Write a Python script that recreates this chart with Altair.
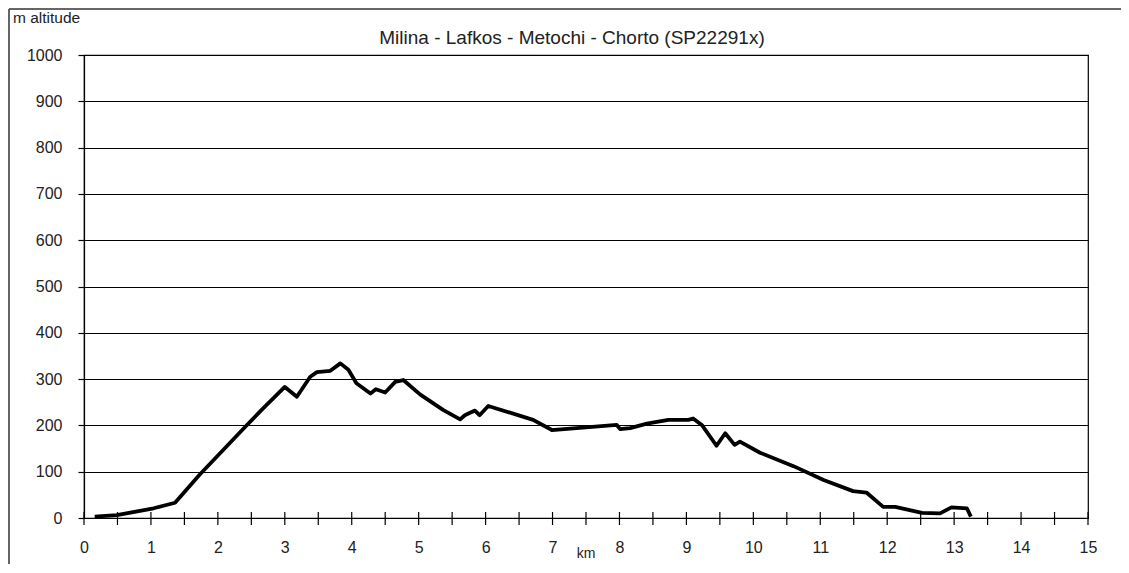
import altair as alt
import pandas as pd

# ---- data ----
km = [0.16, 0.49, 1.04, 1.36, 1.73, 2.41, 2.65, 3.00, 3.18, 3.38, 3.48, 3.68, 3.83,
      3.95, 4.07, 4.28, 4.36, 4.50, 4.65, 4.77, 5.02, 5.37, 5.62, 5.69, 5.84, 5.91,
      6.04, 6.71, 6.99, 7.96, 8.01, 8.16, 8.41, 8.73, 9.03, 9.10, 9.23, 9.45, 9.58,
      9.72, 9.80, 10.10, 10.60, 11.05, 11.49, 11.69, 11.94, 12.12, 12.52, 12.79,
      12.96, 13.19, 13.25]
altitude = [3, 6, 21, 33, 94, 197, 233, 283, 262, 305, 315, 318, 334,
            320, 291, 269, 278, 271, 294, 298, 267, 233, 213, 222, 232, 222,
            242, 212, 190, 201, 192, 194, 204, 212, 212, 215, 201, 156, 183,
            158, 165, 141, 112, 82, 58, 55, 24, 24, 11, 10,
            23, 21, 3]

x_tick_marks = [0, 0.5, 1, 1.5, 2, 2.5, 3, 3.5, 4, 4.5, 5, 5.5, 6, 6.5, 7, 7.5,
                8, 8.5, 9, 9.5, 10, 10.5, 11, 11.5, 12, 12.5, 13, 13.5, 14, 14.5, 15]
x_labels = [0, 1, 2, 3, 4, 5, 6, 7, 8, 9, 10, 11, 12, 13, 14, 15]
y_labels = [0, 100, 200, 300, 400, 500, 600, 700, 800, 900, 1000]

chart_title = "Milina - Lafkos - Metochi - Chorto (SP22291x)"
y_title = "m altitude"
x_title = "km"

W, H = 1004, 463
FONT = "Liberation Sans"

xs = alt.Scale(domain=[0, 15], nice=False, zero=False)
ys = alt.Scale(domain=[0, 1000], nice=False)

x_axis = alt.Axis(values=x_labels, title=None, ticks=False, grid=False, format="d",
                  domainColor="black", domainWidth=1.2, labelOverlap=False,
                  labelFlush=False,
                  labelPadding=21, labelFontSize=16, labelColor="#222",
                  labelFont=FONT)
y_axis = alt.Axis(values=y_labels, title=None, grid=True, gridColor="black", format="d",
                  gridWidth=1.2, gridOpacity=1, tickSize=6, tickColor="black",
                  tickWidth=1.2, domainColor="black", domainWidth=1.2,
                  labelFlush=False,
                  labelPadding=16, labelFontSize=16, labelColor="#222",
                  labelFont=FONT)

df = pd.DataFrame({"km": km, "alt": altitude})

line = alt.Chart(df).mark_line(color="black", strokeWidth=3.8, strokeJoin="round").encode(
    x=alt.X("km:Q", scale=xs, axis=x_axis),
    y=alt.Y("alt:Q", scale=ys, axis=y_axis),
    order=alt.Order("km:Q"),
)

xticks = alt.Chart(pd.DataFrame({"t": x_tick_marks})).mark_rule(
    color="black", strokeWidth=1.2).encode(
    x=alt.X("t:Q", scale=xs, axis=x_axis),
    y=alt.value(H - 6),
    y2=alt.value(H + 7),
)

title_txt = alt.Chart(pd.DataFrame({"t": [chart_title]})).mark_text(
    font=FONT, fontSize=19, color="#222", align="center", baseline="middle").encode(
    text="t:N", x=alt.value(488), y=alt.value(-17))

ytitle_txt = alt.Chart(pd.DataFrame({"t": [y_title]})).mark_text(
    font=FONT, fontSize=15.5, color="#222", align="left", baseline="middle").encode(
    text="t:N", x=alt.value(-71), y=alt.value(-37))

xtitle_txt = alt.Chart(pd.DataFrame({"t": [x_title]})).mark_text(
    font=FONT, fontSize=14, color="#222", align="center", baseline="middle").encode(
    text="t:N", x=alt.value(W / 2), y=alt.value(H + 36))

frame_left = alt.Chart(pd.DataFrame({"a": [0]})).mark_rule(
    color="#333", strokeWidth=1.5).encode(
    x=alt.value(-75), y=alt.value(-46), y2=alt.value(H + 120))
frame_top = alt.Chart(pd.DataFrame({"a": [0]})).mark_rule(
    color="#333", strokeWidth=1.5).encode(
    y=alt.value(-46), x=alt.value(-75), x2=alt.value(W + 120))

chart = alt.layer(
    line, xticks, frame_left, frame_top, title_txt, ytitle_txt, xtitle_txt
).properties(
    width=W, height=H,
    padding={"left": 76, "top": 47, "right": 33, "bottom": 46},
    autosize=alt.AutoSizeParams(type="none"),
    background="white",
).configure_view(stroke="black", strokeWidth=1.2)

chart.save("out.html", embed_options={"renderer": "svg", "actions": False})
